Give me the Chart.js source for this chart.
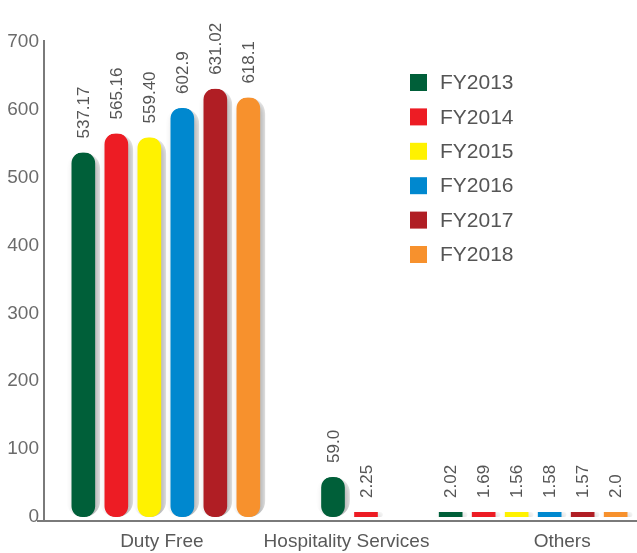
<!DOCTYPE html>
<html><head><meta charset="utf-8">
<script src="https://cdn.jsdelivr.net/npm/chart.js@4/dist/chart.umd.min.js"></script>
<style>html,body{margin:0;padding:0;background:#fff}#wrap{width:637px;height:553px;position:relative}</style>
</head><body><div id="wrap"><canvas id="c" width="637" height="553"></canvas></div>
<script>
// ---- data ----
const categories = ['Duty Free', 'Hospitality Services', 'Others'];
const seriesNames = ['FY2013', 'FY2014', 'FY2015', 'FY2016', 'FY2017', 'FY2018'];
const fy2013 = ['537.17', '59.0', '2.02'];
const fy2014 = ['565.16', '2.25', '1.69'];
const fy2015 = ['559.40', null, '1.56'];
const fy2016 = ['602.9', null, '1.58'];
const fy2017 = ['631.02', null, '1.57'];
const fy2018 = ['618.1', null, '2.0'];
const yTickValues = [0, 100, 200, 300, 400, 500, 600, 700];

// ---- styles ----
const seriesColors = ['#005F39', '#ED1C24', '#FFF200', '#0088CF', '#B01E24', '#F7912D'];
const FONT = '"Liberation Sans", Arial, Helvetica, sans-serif';
const categoryLabelShift = [-4, -3, 29];

const allSeries = [fy2013, fy2014, fy2015, fy2016, fy2017, fy2018];

const datasets = allSeries.map((s, i) => ({
  label: seriesNames[i],
  data: s.map(v => v === null ? null : Number(v)),
  texts: s,
  backgroundColor: seriesColors[i],
  borderColor: 'rgba(0,0,0,0)',
  borderWidth: {left: 5, right: 5, top: 0, bottom: 0},
  borderSkipped: false,
  borderRadius: 16,
  barThickness: 33,
  minBarLength: 5,
  clip: false
}));

const shadowPlugin = {
  id: 'shadow',
  beforeDatasetsDraw(chart) {
    const ctx = chart.ctx;
    ctx.save();
    ctx.shadowColor = 'rgba(0,0,0,0.32)';
    ctx.shadowBlur = 8;
    ctx.shadowOffsetX = 4;
    ctx.shadowOffsetY = 4;
  },
  afterDatasetsDraw(chart) {
    chart.ctx.restore();
  }
};

const decorPlugin = {
  id: 'decor',
  afterDraw(chart) {
    const ctx = chart.ctx;
    const area = chart.chartArea;
    const x = chart.scales.x;
    // axis lines
    ctx.save();
    ctx.strokeStyle = '#7a7a7a';
    ctx.lineWidth = 2;
    ctx.beginPath();
    ctx.moveTo(44, area.top);
    ctx.lineTo(44, area.bottom);
    ctx.moveTo(37, area.bottom);
    ctx.lineTo(637, area.bottom);
    ctx.stroke();
    ctx.restore();

    // category labels
    ctx.save();
    ctx.fillStyle = '#595959';
    ctx.font = '19px ' + FONT;
    ctx.textAlign = 'center';
    ctx.textBaseline = 'middle';
    categories.forEach((c, i) => {
      ctx.fillText(c, x.getPixelForValue(i) + categoryLabelShift[i], area.bottom + 21);
    });
    ctx.restore();

    // value labels
    ctx.save();
    ctx.fillStyle = '#555555';
    ctx.font = '17px ' + FONT;
    chart.data.datasets.forEach((ds, di) => {
      const meta = chart.getDatasetMeta(di);
      meta.data.forEach((el, j) => {
        if (ds.data[j] === null) return;
        ctx.save();
        ctx.translate(el.x + 1, el.y - 14);
        ctx.rotate(-Math.PI / 2);
        ctx.textAlign = 'left';
        ctx.textBaseline = 'middle';
        ctx.fillText(ds.texts[j], 0, 0);
        ctx.restore();
      });
    });
    ctx.restore();

    // legend
    ctx.save();
    ctx.font = '21px ' + FONT;
    ctx.textBaseline = 'middle';
    ctx.textAlign = 'left';
    chart.data.datasets.forEach((ds, i) => {
      const cy = 82.5 + i * 34.4;
      ctx.fillStyle = ds.backgroundColor;
      ctx.fillRect(410, cy - 8.5, 17, 17);
      ctx.fillStyle = '#555555';
      ctx.fillText(ds.label, 440, cy + 1);
    });
    ctx.restore();
  }
};

new Chart(document.getElementById('c'), {
  type: 'bar',
  data: { labels: categories, datasets },
  options: {
    responsive: false,
    animation: false,
    events: [],
    skipNull: true,
    layout: { padding: { left: 6, right: 12, top: 40, bottom: 32 } },
    plugins: { legend: { display: false }, tooltip: { enabled: false } },
    scales: {
      x: {
        display: false,
        offset: true
      },
      y: {
        min: -6,
        max: 703,
        afterBuildTicks(scale) { scale.ticks = yTickValues.map(v => ({ value: v })); },
        afterFit(scale) { scale.width = 68; scale.paddingTop = 10; scale.paddingBottom = 10; },
        grid: { display: false, drawTicks: false },
        border: { display: false },
        ticks: { padding: 35, color: '#6b6b6b', font: { size: 19, family: FONT } }
      }
    }
  },
  plugins: [shadowPlugin, decorPlugin]
});
</script>
</body></html>
